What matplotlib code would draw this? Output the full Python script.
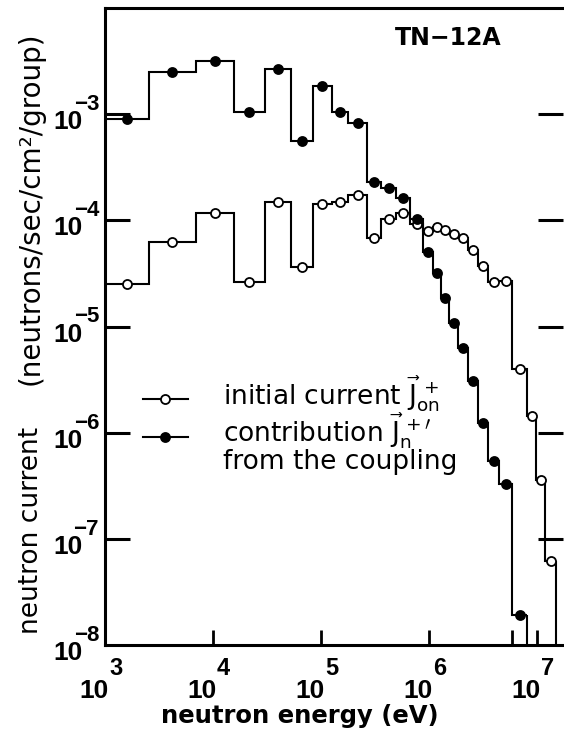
import numpy as np
import matplotlib.pyplot as plt
from matplotlib.lines import Line2D

# energy group boundaries (eV), common to both curves
edges = np.array([1.0e3, 2.55e3, 6.97e3, 1.56e4, 3.03e4, 5.33e4, 8.43e4,
                  1.26e5, 1.78e5, 2.67e5, 3.63e5, 4.95e5, 6.67e5, 8.80e5,
                  1.09e6, 1.29e6, 1.53e6, 1.86e6, 2.30e6, 2.84e6, 3.52e6,
                  4.45e6, 5.87e6, 8.08e6, 9.79e6, 1.19e7, 1.50e7])

# initial current J+on per group (neutrons/sec/cm2/group)
j_init = np.array([2.49e-5, 6.28e-5, 1.16e-4, 2.64e-5, 1.48e-4, 3.60e-5, 1.42e-4,
                   1.49e-4, 1.73e-4, 6.76e-5, 1.04e-4, 1.18e-4, 9.20e-5, 7.96e-5,
                   8.57e-5, 8.09e-5, 7.41e-5, 6.80e-5, 5.21e-5, 3.71e-5, 2.62e-5,
                   2.69e-5, 4.01e-6, 1.42e-6, 3.58e-7, 6.25e-8])

# contribution J+'n from the coupling (nothing above ~8 MeV)
j_coup = np.array([8.97e-4, 2.50e-3, 3.18e-3, 1.04e-3, 2.69e-3, 5.61e-4, 1.84e-3,
                   1.05e-3, 8.17e-4, 2.31e-4, 2.00e-4, 1.61e-4, 1.02e-4, 5.05e-5,
                   3.20e-5, 1.87e-5, 1.08e-5, 6.22e-6, 3.06e-6, 1.22e-6, 5.46e-7,
                   3.32e-7, 1.90e-8])

xlabel_exps = [3, 4, 5, 6, 7]
ylabel_exps = [-3, -4, -5, -6, -7, -8]
xtick_marks = [1e4, 1e5, 1e6, 5.9e6, 1e7]
ytick_marks = [1e-3, 1e-4, 1e-5, 1e-6, 1e-7]

W, H = 564, 736
fig = plt.figure(figsize=(W / 100, H / 100), dpi=100)
ax = fig.add_axes([105 / W, 91 / H, 458 / W, 637 / H])
ax.set_xscale('log')
ax.set_yscale('log')
ax.set_xlim(1e3, 1.74e7)
ax.set_ylim(1e-8, 1e-2)
ymin = ax.get_ylim()[0]


def draw_steps(vals, face, z):
    e = edges[:len(vals) + 1]
    ax.stairs(vals, e, baseline=None, color='black', lw=1.5, zorder=z)
    ax.vlines(e[-1], ymin, vals[-1], color='black', lw=1.5, zorder=z)
    mid = np.sqrt(e[:-1] * e[1:])
    ax.plot(mid, vals, 'o', mfc=face, mec='black', ms=6.5, mew=1.3,
            zorder=z + 1, clip_on=False)


draw_steps(j_init, 'white', 2)
draw_steps(j_coup, 'black', 4)

# axes frame and ticks
for side in ['left', 'bottom', 'top']:
    ax.spines[side].set_linewidth(2.2)
ax.spines['right'].set_visible(False)
ax.xaxis.set_minor_locator(plt.NullLocator())
ax.yaxis.set_minor_locator(plt.NullLocator())
ax.set_xticks(xtick_marks)
ax.set_yticks(ytick_marks)
ax.tick_params(axis='x', direction='in', length=11, width=2.0,
               labelbottom=False)
ax.tick_params(axis='y', direction='in', length=18, width=2.2,
               left=True, right=True, labelleft=False)

# power-of-ten labels, exponent set above and to the right of "10"
num = dict(family=['Liberation Sans', 'DejaVu Sans'], weight='bold')
for ex in ylabel_exps:
    ax.annotate('10', xy=(0, 10.0 ** ex), xycoords=('axes fraction', 'data'),
                xytext=(-22, -15), textcoords='offset pixels',
                ha='right', va='baseline', fontsize=19, **num)
    ax.annotate('\u2212%d' % -ex, xy=(0, 10.0 ** ex),
                xycoords=('axes fraction', 'data'),
                xytext=(-6, 4), textcoords='offset pixels',
                ha='right', va='baseline', fontsize=16, **num)
for ex in xlabel_exps:
    ax.annotate('10', xy=(10.0 ** ex, 0), xycoords=('data', 'axes fraction'),
                xytext=(4, -53), textcoords='offset pixels',
                ha='right', va='baseline', fontsize=19, **num)
    ax.annotate('%d' % ex, xy=(10.0 ** ex, 0),
                xycoords=('data', 'axes fraction'),
                xytext=(4, -30), textcoords='offset pixels',
                ha='left', va='baseline', fontsize=17, **num)

fig.text(300 / W, 1 - 723 / H, 'neutron energy (eV)', ha='center',
         va='baseline', fontsize=17.5, fontweight='bold')
fig.text(31 / W, 1 - 530 / H, 'neutron current', rotation=90,
         ha='center', va='center', fontsize=19)
fig.text(31 / W, 1 - 208 / H, '(neutrons/sec/cm\u00b2/group)', rotation=90,
         ha='center', va='center', fontsize=20)
fig.text(448 / W, 1 - 38 / H, 'TN\u221212A', ha='center', va='center',
         fontsize=17, fontweight='bold')

# key: short line with a marker in the middle, text to the right
for yk, face in [(399, 'white'), (437, 'black')]:
    fig.add_artist(Line2D([143 / W, 165 / W, 188 / W], [1 - yk / H] * 3,
                          transform=fig.transFigure, color='black', lw=1.5,
                          marker='o', markevery=[1], mfc=face, mec='black',
                          ms=6.5, mew=1.3))
key_font = dict(ha='left', va='baseline', fontsize=19)
fig.text(223 / W, 1 - 405 / H,
         r'initial current $\vec{\mathrm{J}}_{\mathrm{on}}^{\,+}$', **key_font)
fig.text(223 / W, 1 - 442 / H,
         r'contribution $\vec{\mathrm{J}}_{\mathrm{n}}^{\,+\prime}$', **key_font)
fig.text(223 / W, 1 - 469 / H, 'from the coupling', **key_font)

fig.savefig('out.png', dpi=100)
